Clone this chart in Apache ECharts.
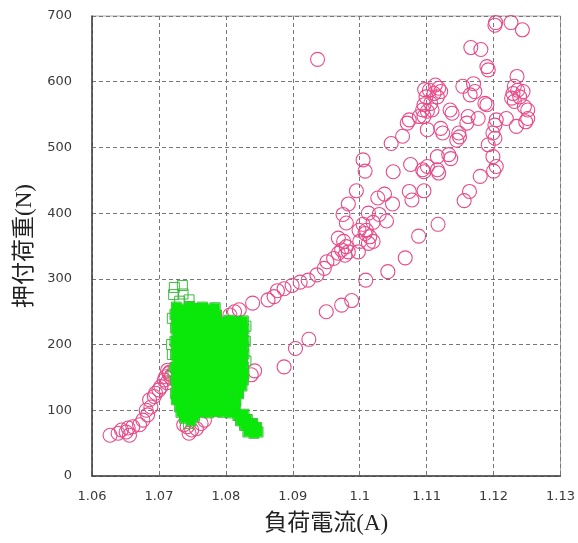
<!DOCTYPE html>
<html>
<head>
<meta charset="utf-8">
<script src="https://cdn.jsdelivr.net/npm/echarts@6/dist/echarts.min.js"></script>
<style>
  html, body { margin: 0; padding: 0; background: #ffffff; }
  #chart { width: 578px; height: 543px; }
</style>
</head>
<body>
<div id="chart"></div>
<script>
// Axis settings
const xTicks = { min: 1.06, max: 1.13, step: 0.01 };
const yTicks = { min: 0, max: 700, step: 100 };
const xName = '負荷電流(A)';
const yName = '押付荷重(N)';

// Circle series: [load current (A), pressing load (N)]
const circlePoints = [
  [1.0627,62],[1.0639,65],[1.0644,70],[1.0651,67],[1.0656,62],[1.0654,73],[1.0661,75],
  [1.0671,78],[1.0676,85],[1.0683,93],[1.0681,100],[1.0688,105],[1.0686,116],[1.0693,121],
  [1.0695,126],[1.0700,131],[1.0703,136],[1.0708,146],[1.0710,151],[1.0715,156],[1.0713,161],
  [1.0718,150],[1.0712,142],[1.0716,158],[1.0719,153],
  [1.0737,78],[1.0745,65],[1.0749,70],[1.0756,72],[1.0763,80],[1.0768,85],[1.0742,75],
  [1.0806,245],[1.0813,250],[1.0820,253],[1.0843,160],[1.0838,154],
  [1.0840,263],[1.0863,268],[1.0872,273],[1.0877,282],[1.0887,285],[1.0899,290],[1.0911,295],
  [1.0923,298],[1.0936,306],[1.0947,316],
  [1.0951,326],[1.0961,331],[1.0968,339],[1.0978,336],[1.0973,344],[1.0983,341],[1.0980,349],
  [1.0976,357],[1.0968,362],[1.0998,341],[1.0980,385],[1.0975,398],[1.0983,414],[1.0995,434],
  [1.0887,166],[1.0904,194],[1.0924,208],[1.0950,250],[1.0973,260],[1.0988,267],[1.1009,298],
  [1.1042,311],[1.1068,332],[1.1088,365],[1.1117,383],
  [1.1000,357],[1.1013,354],[1.1020,357],[1.1015,364],[1.1008,369],[1.1010,374],[1.0999,374],
  [1.1005,383],[1.1020,386],[1.1013,400],[1.1029,398],[1.1040,388],[1.1049,414],[1.1027,423],
  [1.1037,429],[1.1005,481],[1.1008,464],[1.1050,463],[1.1076,474],[1.1094,466],[1.1047,506],
  [1.1064,517],
  [1.1074,542],[1.1071,537],[1.1089,547],[1.1094,557],[1.1074,433],[1.1078,420],[1.1096,434],
  [1.1101,471],[1.1096,463],[1.1116,466],[1.1118,461],[1.1116,486],[1.1133,489],[1.1136,483],
  [1.1101,527],[1.1121,529],[1.1124,522],[1.1148,522],[1.1145,511],[1.1149,516],
  [1.1113,595],[1.1118,590],[1.1121,585],[1.1111,582],[1.1104,587],[1.1099,577],[1.1116,577],
  [1.1106,567],[1.1096,565],[1.1108,557],[1.1101,555],[1.1096,547],[1.1097,588],
  [1.1135,557],[1.1138,552],[1.1162,547],[1.1160,537],[1.1177,544],[1.1154,593],[1.1170,597],
  [1.1165,580],[1.1172,585],[1.1187,567],
  [1.1166,652],[1.1181,649],[1.1190,623],[1.1192,618],[1.1203,690],[1.1202,686],[1.1226,690],
  [1.1243,679],[1.1235,608],[1.1231,593],[1.1236,587],[1.1229,582],[1.1239,577],[1.1227,575],
  [1.1244,585],[1.1231,570],[1.1246,562],[1.1251,557],[1.1251,544],[1.1248,539],[1.1234,532],
  [1.1219,544],[1.1204,542],[1.1202,534],[1.1199,522],[1.1202,514],[1.1192,504],[1.1199,486],
  [1.1204,471],[1.1200,464],[1.1180,456],[1.1164,433],[1.1156,419],[1.1190,565],
  [1.0937,634]
];

// Square series, dense core of the cloud
const squareCore = [
  [1.0726,257],[1.0735,254],[1.0746,258],[1.0754,255],[1.0765,257],[1.0776,254],[1.0784,256],
  [1.0724,246],[1.0736,248],[1.0744,245],[1.0756,247],[1.0766,244],[1.0774,247],[1.0786,245],
  [1.0726,237],[1.0734,235],[1.0745,238],[1.0755,236],[1.0764,234],[1.0775,237],[1.0785,236],[1.0796,234],[1.0805,237],[1.0815,235],[1.0826,236],
  [1.0725,225],[1.0736,227],[1.0744,224],[1.0756,226],[1.0766,228],[1.0774,225],[1.0786,226],[1.0794,228],[1.0806,225],[1.0814,227],[1.0827,224],
  [1.0727,216],[1.0735,214],[1.0746,217],[1.0754,215],[1.0765,216],[1.0776,214],[1.0784,217],[1.0795,215],[1.0804,216],[1.0816,214],[1.0825,217],
  [1.0724,205],[1.0736,207],[1.0745,204],[1.0756,206],[1.0764,208],[1.0775,205],[1.0786,206],[1.0796,204],[1.0805,207],[1.0815,205],[1.0827,206],
  [1.0726,196],[1.0734,194],[1.0746,197],[1.0755,195],[1.0766,196],[1.0774,198],[1.0785,195],[1.0794,197],[1.0806,194],[1.0814,196],[1.0826,197],
  [1.0725,185],[1.0735,187],[1.0744,186],[1.0756,184],[1.0765,187],[1.0776,185],[1.0784,186],[1.0795,184],[1.0804,187],[1.0816,185],[1.0827,186],
  [1.0727,176],[1.0736,174],[1.0745,177],[1.0754,175],[1.0766,176],[1.0775,174],[1.0786,177],[1.0794,175],[1.0805,176],[1.0815,178],[1.0825,175],
  [1.0724,165],[1.0734,167],[1.0746,166],[1.0755,164],[1.0764,167],[1.0776,165],[1.0785,166],[1.0796,164],[1.0806,167],[1.0814,165],[1.0826,166],
  [1.0726,156],[1.0735,154],[1.0744,157],[1.0756,155],[1.0765,156],[1.0774,158],[1.0784,155],[1.0795,157],[1.0804,154],[1.0816,156],[1.0827,155],
  [1.0725,145],[1.0736,147],[1.0745,146],[1.0754,144],[1.0766,147],[1.0775,145],[1.0786,146],[1.0794,144],[1.0805,147],[1.0815,145],[1.0826,146],
  [1.0727,136],[1.0734,134],[1.0746,137],[1.0755,135],[1.0764,136],[1.0776,134],[1.0785,137],[1.0796,135],[1.0806,136],[1.0814,134],[1.0824,137],
  [1.0725,125],[1.0735,127],[1.0744,126],[1.0756,124],[1.0765,127],[1.0774,125],[1.0786,126],[1.0795,124],[1.0804,127],[1.0819,125],
  [1.0726,116],[1.0736,114],[1.0745,117],[1.0754,115],[1.0766,116],[1.0775,114],[1.0784,117],[1.0794,115],[1.0805,116],[1.0815,114],
  [1.0731,105],[1.0744,107],[1.0755,106],[1.0764,104],[1.0776,107],[1.0785,105],[1.0796,106],[1.0804,104],[1.0814,107],
  [1.0733,97],[1.0745,96],[1.0754,98],[1.0765,97],[1.0774,96],[1.0786,98],[1.0795,97],[1.0806,96],[1.0813,99],
  [1.0738,88],[1.0748,84],[1.0753,91],
  [1.0818,92],[1.0827,94],[1.0822,84],[1.0832,86],[1.0840,80],[1.0828,77],[1.0837,73],
  [1.0846,74],[1.0833,67],[1.0842,65],[1.0848,67]
];

// Square series, scattered points around the core
const squareFringe = [
  [1.0723,287],[1.0735,290],[1.0722,276],[1.0736,277],[1.0745,268],[1.0731,266],
  [1.0720,240],[1.0719,200],[1.0720,185],[1.0721,157],
  [1.0830,228],[1.0829,205],[1.0830,175],[1.0744,80]
];

const chart = echarts.init(document.getElementById('chart'), null, { renderer: 'canvas' });

const tickFont = { fontFamily: 'DejaVu Sans', fontSize: 13, color: '#3a3a3a' };
const nameFont = { fontFamily: "'Liberation Serif', 'Noto Sans CJK JP'", fontSize: 23, color: '#222' };
const dashed = { show: true, lineStyle: { color: '#777', type: [4, 3], width: 1 } };

chart.setOption({
  animation: false,
  backgroundColor: '#ffffff',
  grid: {
    left: 92, right: 12, top: 16, bottom: 67,
    show: true, borderColor: '#a8a8a8', borderWidth: 1
  },
  xAxis: {
    type: 'value',
    min: xTicks.min, max: xTicks.max, interval: xTicks.step,
    name: xName, nameLocation: 'middle', nameGap: 36, nameTextStyle: nameFont,
    axisLine: { show: true, lineStyle: { color: '#404040', width: 1.5 } },
    axisTick: { show: false },
    axisLabel: Object.assign({ margin: 14, showMaxLabel: true, showMinLabel: true }, tickFont),
    splitLine: dashed
  },
  yAxis: {
    type: 'value',
    min: yTicks.min, max: yTicks.max, interval: yTicks.step,
    name: yName, nameLocation: 'middle', nameGap: 54, nameTextStyle: nameFont,
    axisLine: { show: true, lineStyle: { color: '#404040', width: 1.5 } },
    axisTick: { show: false },
    axisLabel: Object.assign({ margin: 20 }, tickFont),
    splitLine: dashed
  },
  series: [
    {
      type: 'scatter', data: circlePoints, symbol: 'circle', symbolSize: 14, z: 2,
      itemStyle: { color: 'rgba(0,0,0,0)', borderColor: '#e84a88', borderWidth: 1.1, opacity: 1 }
    },
    {
      type: 'scatter', data: squareCore.concat(squareFringe), symbol: 'rect', symbolSize: 10, z: 3,
      itemStyle: { color: 'rgba(0,0,0,0)', borderColor: '#3cb83c', borderWidth: 1, opacity: 1 }
    },
    {
      type: 'scatter', data: squareCore, symbol: 'rect', symbolSize: 9, z: 4,
      itemStyle: { color: '#0ae80a', borderColor: '#0ae80a', borderWidth: 0, opacity: 1 }
    }
  ]
});
</script>
</body>
</html>
